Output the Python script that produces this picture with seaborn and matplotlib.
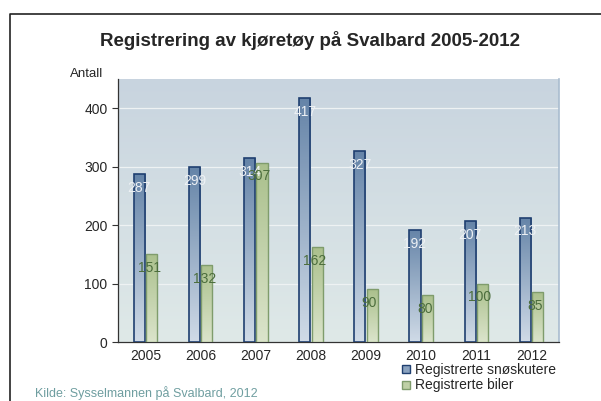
import numpy as np
import pandas as pd
import matplotlib
matplotlib.use("Agg")
import matplotlib.pyplot as plt
import seaborn as sns
from matplotlib.colors import LinearSegmentedColormap
from matplotlib.lines import Line2D

years = ["2005", "2006", "2007", "2008", "2009", "2010", "2011", "2012"]
snoskutere = [287, 299, 314, 417, 327, 192, 207, 213]
biler = [151, 132, 307, 162, 90, 80, 100, 85]
series_names = ["Registrerte snøskutere", "Registrerte biler"]
title = "Registrering av kjøretøy på Svalbard 2005-2012"
ylabel = "Antall"
source = "Kilde: Sysselmannen på Svalbard, 2012"

df = pd.DataFrame({
    "year": years * 2,
    "value": snoskutere + biler,
    "series": [series_names[0]] * len(years) + [series_names[1]] * len(years),
})

sns.set_style("white")
plt.rcParams["font.family"] = ["Liberation Sans", "DejaVu Sans"]

W, H = 601, 401
fig = plt.figure(figsize=(6.01, 4.01), dpi=100)
ax = fig.add_axes([118 / W, 59 / H, 441 / W, 263 / H])
YMAX = 450

sns.barplot(data=df, x="year", y="value", hue="series", order=years,
            hue_order=series_names, palette=["#7a93b0", "#b7c99c"],
            width=0.45, gap=0.1, ax=ax, legend=False, zorder=3)

n = len(years)
# background gradient
bg = LinearSegmentedColormap.from_list("bg", ["#dfe9e8", "#c8d4df"])
grad = np.linspace(0, 1, 256).reshape(-1, 1)
ax.imshow(grad, cmap=bg, origin="lower", aspect="auto",
          extent=[-0.5, n - 0.5, 0, YMAX], zorder=0)

# bar gradients
cmaps = [LinearSegmentedColormap.from_list("b", ["#d0dbe7", "#6584a8"]),
         LinearSegmentedColormap.from_list("g", ["#dbe4cb", "#aac08c"])]
edges = ["#1f3f70", "#7f9c6c"]
for i, p in enumerate(ax.patches[:2 * n]):
    s = i // n
    x0, y0 = p.get_x(), p.get_y()
    w, h = p.get_width(), p.get_height()
    p.set_facecolor("none")
    p.set_edgecolor(edges[s])
    p.set_linewidth(1.2 if s == 0 else 1.0)
    p.set_zorder(4)
    im = ax.imshow(grad, cmap=cmaps[s], origin="lower", aspect="auto",
                   extent=[x0, x0 + w, y0, y0 + h], zorder=3)
    im.set_clip_path(p)

ax.set_ylim(0, YMAX)
ax.set_xlim(-0.5, n - 0.5)

# value labels
vals = snoskutere + biler
for i, p in enumerate(ax.patches[:2 * n]):
    s = i // n
    cx = p.get_x() + p.get_width() / 2
    ax.annotate(str(vals[i]), (cx - (0.0 if s == 0 else 0.05), p.get_height()),
                xytext=(0, -10), textcoords="offset points",
                ha="center", va="center", fontsize=10,
                color="#eef1f5" if s == 0 else "#4b6d3c", zorder=6)

# grid
for yv in [100, 200, 300, 400]:
    ax.axhline(yv, color="#eef2f3", lw=0.9, zorder=1)

ax.set_yticks([0, 100, 200, 300, 400])
ax.set_xticks(range(n))
ax.set_xticklabels(years)
ax.set_xticks(np.arange(-0.5, n, 1), minor=True)
ax.tick_params(axis="x", which="major", length=0, labelsize=10, pad=5)
ax.tick_params(axis="x", which="minor", length=4, width=0.8, direction="out", color="#333333")
ax.tick_params(axis="y", length=4, width=0.8, direction="out", labelsize=10,
               color="#333333", left=True)
ax.set_xlabel("")
ax.set_ylabel("")

for side in ["left", "bottom"]:
    ax.spines[side].set_color("#333333")
    ax.spines[side].set_linewidth(0.9)
ax.spines["top"].set_visible(False)
ax.spines["right"].set_color("#a9bccf")
ax.spines["right"].set_linewidth(1.2)

fig.text(310 / W, 1 - 41 / H, title, ha="center", va="center",
         fontsize=13.5, fontweight="bold")
fig.text(70 / W, 1 - 74 / H, ylabel, ha="left", va="center", fontsize=9.5)
fig.text(35 / W, 1 - 393 / H, source, ha="left", va="center",
         fontsize=9, color="#6f9ea0")

handles = [Line2D([], [], marker="s", ls="none", markersize=6,
                  markerfacecolor=c, markeredgecolor=e, markeredgewidth=1)
           for c, e in zip(["#8aa2bf", "#bfd0a6"], edges)]
fig.legend(handles, series_names, loc="upper left",
           bbox_to_anchor=(400 / W, 1 - 363 / H), frameon=False,
           fontsize=10, handlelength=0.8, handletextpad=0.3,
           labelspacing=0.1, borderpad=0, borderaxespad=0)

# partial frame (left and top)
fig.add_artist(Line2D([9.5 / W, 9.5 / W, 1.0], [0.0, 1 - 14 / H, 1 - 14 / H],
                      transform=fig.transFigure, color="#222222", lw=1.2))

fig.savefig("out.png", dpi=100)
